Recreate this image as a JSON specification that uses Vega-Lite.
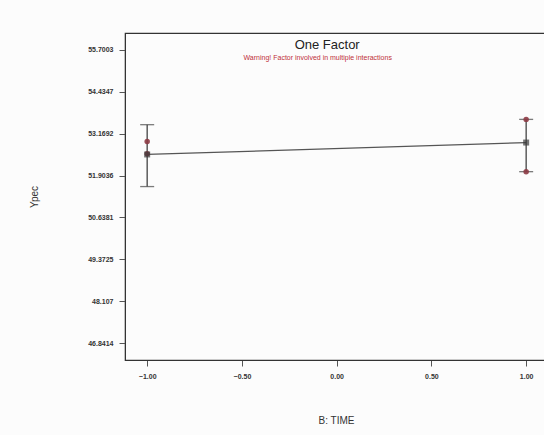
{
  "$schema": "https://vega.github.io/schema/vega-lite/v6.json",
  "width": 422,
  "height": 327,
  "autosize": {"type": "none"},
  "padding": {"left": 125, "top": 33, "right": 0, "bottom": 75},
  "background": "#fcfcfc",
  "config": {
    "view": {"stroke": "#333333", "strokeWidth": 1.2},
    "font": "Liberation Sans",
    "axis": {"grid": false, "domainColor": "#333333", "tickColor": "#555555", "labelColor": "#333333", "labelFontSize": 7, "labelFontWeight": "bold", "titleFontWeight": "normal", "titleColor": "#333333", "titleFontSize": 10}
  },
  "datasets": {
    "means": [
      {"B": -1, "Ypec": 52.54, "lo": 51.57, "hi": 53.44},
      {"B": 1, "Ypec": 52.90, "lo": 52.02, "hi": 53.60}
    ],
    "design": [
      {"B": -1, "Ypec": 52.93},
      {"B": -1, "Ypec": 52.56},
      {"B": 1, "Ypec": 53.60},
      {"B": 1, "Ypec": 52.02}
    ],
    "notes": [
      {"B": -0.05, "Ypec": 55.85, "label": "One Factor", "kind": "title"},
      {"B": -0.1, "Ypec": 55.45, "label": "Warning! Factor involved in multiple interactions", "kind": "warn"}
    ]
  },
  "encoding": {
    "x": {"field": "B", "type": "quantitative", "scale": {"domain": [-1.117, 1.11], "nice": false, "zero": false},
      "axis": {"title": "B: TIME", "values": [-1, -0.5, 0, 0.5, 1], "format": ".2f", "tickSize": 6, "labelPadding": 6, "titlePadding": 36}},
    "y": {"field": "Ypec", "type": "quantitative", "scale": {"domain": [46.33, 56.21], "nice": false, "zero": false},
      "axis": {"title": "Ypec", "values": [46.8414, 48.107, 49.3725, 50.6381, 51.9036, 53.1692, 54.4347, 55.7003],
        "labelExpr": "datum.value == 48.107 ? '48.107' : format(datum.value, '.4f')", "tickSize": 6, "labelPadding": 6, "titlePadding": 48}}
  },
  "layer": [
    {"data": {"name": "means"}, "mark": {"type": "line", "color": "#555555", "strokeWidth": 1.2}},
    {"data": {"name": "means"}, "mark": {"type": "rule", "color": "#444444", "strokeWidth": 1.3},
      "encoding": {"y": {"field": "lo", "type": "quantitative"}, "y2": {"field": "hi"}}},
    {"data": {"name": "means"}, "mark": {"type": "tick", "orient": "horizontal", "color": "#444444", "size": 14, "thickness": 1.3},
      "encoding": {"y": {"field": "lo", "type": "quantitative"}}},
    {"data": {"name": "means"}, "mark": {"type": "tick", "orient": "horizontal", "color": "#444444", "size": 14, "thickness": 1.3},
      "encoding": {"y": {"field": "hi", "type": "quantitative"}}},
    {"data": {"name": "design"}, "mark": {"type": "point", "shape": "circle", "filled": true, "color": "#8c3a44", "size": 30, "opacity": 0.9}},
    {"data": {"name": "means"}, "mark": {"type": "point", "shape": "square", "filled": true, "color": "#3a3a3a", "size": 36}},
    {"data": {"name": "notes"}, "transform": [{"filter": "datum.kind == 'title'"}],
      "mark": {"type": "text", "fontSize": 13, "color": "#222222", "font": "Liberation Sans"},
      "encoding": {"text": {"field": "label"}}},
    {"data": {"name": "notes"}, "transform": [{"filter": "datum.kind == 'warn'"}],
      "mark": {"type": "text", "fontSize": 7, "color": "#c0303a", "font": "Liberation Sans"},
      "encoding": {"text": {"field": "label"}}}
  ]
}
